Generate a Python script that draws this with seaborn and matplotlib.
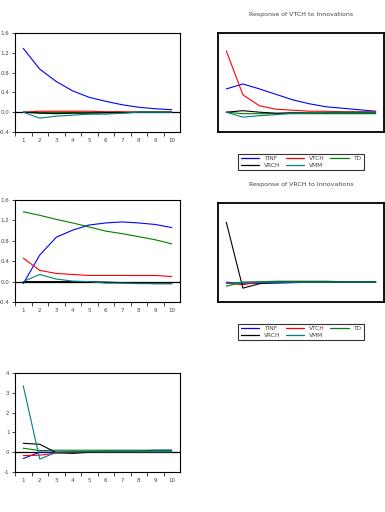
import pandas as pd
import matplotlib
matplotlib.use("Agg")
import matplotlib.pyplot as plt
import seaborn as sns

sns.set_style("white")
plt.rcParams['font.family'] = ['DejaVu Sans']

periods = [1, 2, 3, 4, 5, 6, 7, 8, 9, 10]
names = ['TINF', 'VTCH', 'TD', 'VRCH', 'VMM']
colors = {'TINF': '#0000ff', 'VTCH': '#ff0000', 'TD': '#008000',
          'VRCH': '#000000', 'VMM': '#008080'}

# panel 1 (top left)
p1_tinf = [1.29, 0.87, 0.62, 0.43, 0.30, 0.22, 0.15, 0.10, 0.07, 0.05]
p1_vtch = [0.00, 0.02, 0.02, 0.02, 0.02, 0.01, 0.01, 0.00, 0.00, 0.00]
p1_td = [0.00, -0.01, -0.01, -0.01, -0.01, -0.01, -0.01, 0.00, 0.00, 0.00]
p1_vrch = [0.00, -0.02, -0.03, -0.02, -0.02, -0.01, -0.01, 0.00, 0.00, 0.00]
p1_vmm = [0.00, -0.12, -0.08, -0.06, -0.04, -0.04, -0.02, 0.00, 0.00, 0.00]

# panel 2 (top right) - Response of VTCH
p2_tinf = [0.47, 0.57, 0.47, 0.36, 0.25, 0.17, 0.11, 0.08, 0.05, 0.02]
p2_vtch = [1.24, 0.35, 0.13, 0.06, 0.04, 0.02, 0.02, 0.01, 0.01, 0.01]
p2_td = [0.00, -0.03, -0.03, -0.03, -0.03, -0.03, -0.03, -0.03, -0.03, -0.03]
p2_vrch = [0.00, 0.03, 0.00, -0.02, -0.01, -0.01, -0.01, -0.01, -0.01, -0.01]
p2_vmm = [0.00, -0.10, -0.07, -0.05, -0.02, -0.01, 0.00, 0.00, 0.00, 0.00]

# panel 3 (middle left)
p3_tinf = [-0.04, 0.52, 0.87, 1.01, 1.11, 1.15, 1.17, 1.15, 1.12, 1.06]
p3_vtch = [0.46, 0.22, 0.16, 0.14, 0.12, 0.12, 0.12, 0.12, 0.12, 0.10]
p3_td = [1.37, 1.30, 1.22, 1.15, 1.07, 0.99, 0.94, 0.88, 0.82, 0.74]
p3_vrch = [0.00, 0.00, 0.00, 0.00, 0.00, -0.01, -0.02, -0.03, -0.04, -0.04]
p3_vmm = [0.00, 0.14, 0.05, 0.01, 0.00, -0.03, -0.03, -0.04, -0.04, -0.04]

# panel 4 (middle right) - Response of VRCH
p4_tinf = [0.00, -0.02, -0.02, -0.02, -0.01, 0.00, 0.00, 0.00, 0.00, 0.00]
p4_vtch = [-0.02, -0.05, 0.00, 0.00, 0.00, 0.00, 0.00, 0.00, 0.00, 0.00]
p4_td = [-0.08, 0.00, 0.01, 0.02, 0.02, 0.02, 0.02, 0.01, 0.01, 0.01]
p4_vrch = [1.21, -0.12, -0.03, 0.00, 0.00, 0.00, 0.00, 0.00, 0.00, 0.00]
p4_vmm = [-0.02, 0.00, 0.00, 0.00, 0.00, 0.00, 0.00, 0.00, 0.00, 0.00]

# panel 5 (bottom left)
p5_tinf = [-0.32, 0.00, 0.00, 0.02, 0.03, 0.06, 0.06, 0.06, 0.10, 0.10]
p5_vtch = [-0.17, -0.15, -0.05, 0.00, 0.00, 0.00, 0.00, 0.00, 0.00, 0.00]
p5_td = [0.20, 0.08, 0.10, 0.10, 0.10, 0.10, 0.10, 0.10, 0.10, 0.10]
p5_vrch = [0.45, 0.40, -0.02, -0.06, 0.00, 0.00, 0.00, 0.00, 0.00, 0.00]
p5_vmm = [3.35, -0.35, 0.00, 0.02, 0.02, 0.02, 0.02, 0.02, 0.02, 0.02]

def make_df(series):
    rows = []
    for nm, vals in zip(names, series):
        for p, v in zip(periods, vals):
            rows.append({'period': p, 'value': v, 'shock': nm})
    return pd.DataFrame(rows)

panels = [
    (make_df([p1_tinf, p1_vtch, p1_td, p1_vrch, p1_vmm]), [15, 33, 165, 99], (-0.4, 1.6), True, None),
    (make_df([p2_tinf, p2_vtch, p2_td, p2_vrch, p2_vmm]), [218, 33, 166, 99], (-0.4, 1.6), False, 'Response of VTCH to Innovations'),
    (make_df([p3_tinf, p3_vtch, p3_td, p3_vrch, p3_vmm]), [15, 200, 165, 102], (-0.4, 1.6), True, None),
    (make_df([p4_tinf, p4_vtch, p4_td, p4_vrch, p4_vmm]), [218, 203, 166, 99], (-0.4, 1.6), False, 'Response of VRCH to Innovations'),
    (make_df([p5_tinf, p5_vtch, p5_td, p5_vrch, p5_vmm]), [15, 373, 165, 99], (-1, 4), True, None),
]

W, H = 385, 512
fig = plt.figure(figsize=(W / 100, H / 100), dpi=100)

for df, (x, y, w, h), ylim, ticks, title in panels:
    ax = fig.add_axes([x / W, (H - y - h) / H, w / W, h / H])
    if ticks:
        ax.axhline(0, color='black', lw=0.9, zorder=1)
    sns.lineplot(data=df, x='period', y='value', hue='shock', palette=colors,
                 lw=0.8, legend=False, ax=ax, zorder=2)
    ax.set_xlim(0.5, 10.5)
    ax.set_ylim(*ylim)
    ax.set_xlabel('')
    ax.set_ylabel('')
    for s in ax.spines.values():
        s.set_color('black')
        s.set_linewidth(0.8 if ticks else 1.3)
    if ticks:
        if ylim == (-1, 4):
            yt = [-1, 0, 1, 2, 3, 4]
            ax.set_yticks(yt)
            ax.set_yticklabels([str(v) for v in yt])
        else:
            yt = [-0.4, 0.0, 0.4, 0.8, 1.2, 1.6]
            ax.set_yticks(yt)
            ax.set_yticklabels(['%.1f' % v for v in yt])
        ax.set_xticks([p + 0.5 for p in periods[:-1]] + [0.5])
        ax.set_xticklabels([])
        ax.set_xticks(periods, minor=True)
        ax.set_xticklabels([str(p) for p in periods], minor=True)
        ax.tick_params(axis='x', which='minor', length=0, labelsize=4, labelcolor='#444444', pad=4)
        ax.tick_params(axis='x', which='major', length=3, width=0.6, direction='out', bottom=True)
        ax.tick_params(axis='y', length=2, width=0.6, direction='out', left=True,
                       labelsize=4, labelcolor='#444444', pad=2)
    else:
        ax.set_xticks([])
        ax.set_yticks([])
        ax.set_title(title, fontsize=4.5, color='#444444', pad=12)
        handles = [plt.Line2D([], [], color=colors[n], lw=0.9) for n in names]
        order = ['TINF', 'VRCH', 'VTCH', 'VMM', 'TD']
        hh = [handles[names.index(n)] for n in order]
        leg = ax.legend(hh, order, ncol=3, loc='upper center',
                        bbox_to_anchor=(0.5, -0.19), fontsize=4.2, frameon=True,
                        fancybox=False, edgecolor='black', handlelength=3.2,
                        columnspacing=0.9, handletextpad=0.8, labelspacing=0.3,
                        borderpad=0.4)
        leg.get_frame().set_linewidth(0.8)
        for t in leg.get_texts():
            t.set_color('#444444')

plt.savefig('out.png', dpi=100)
